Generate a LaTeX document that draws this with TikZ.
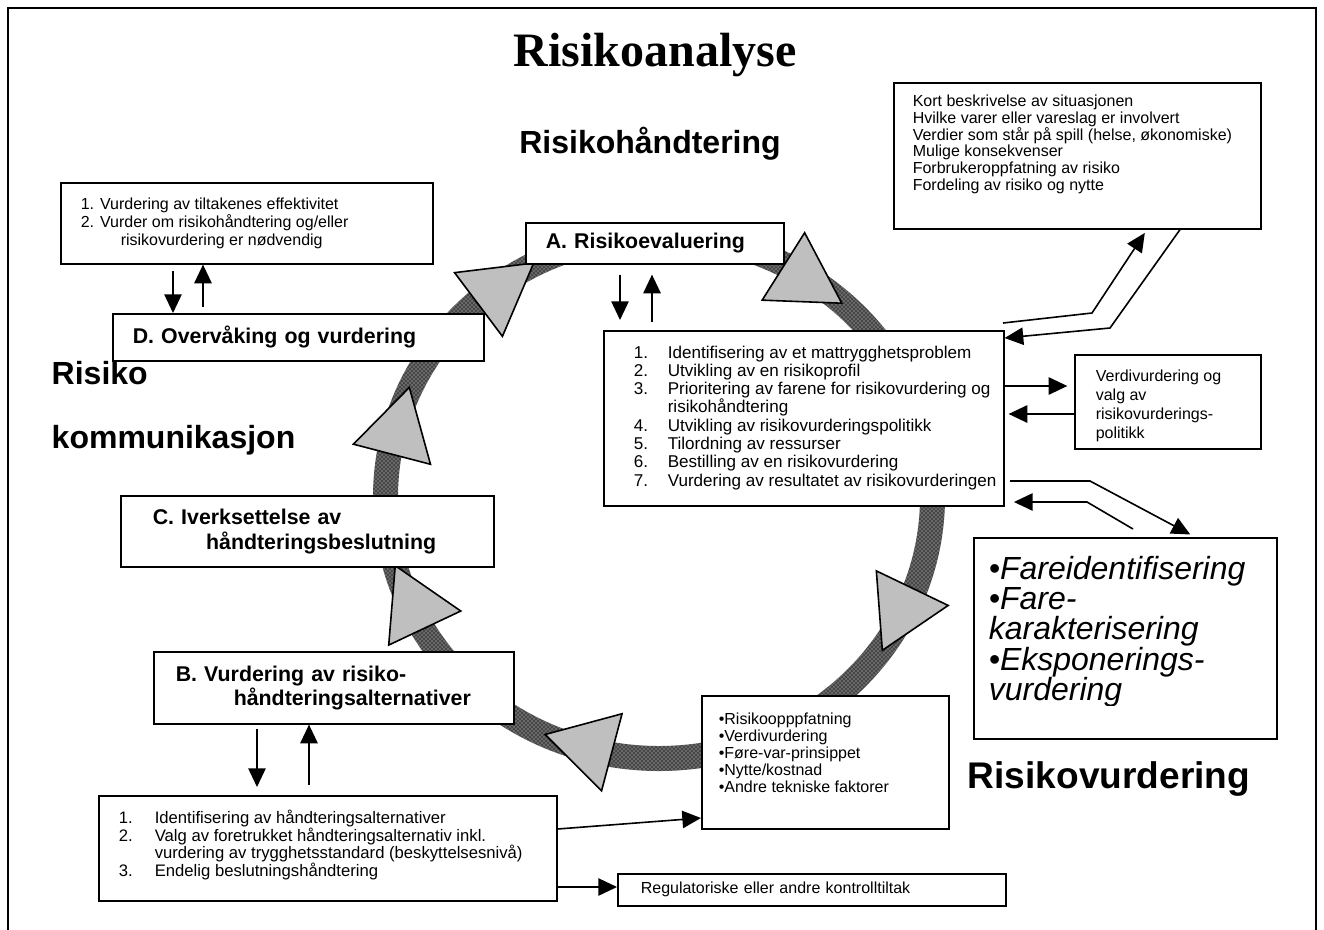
\documentclass[tikz,border=0pt]{standalone}
\usepackage{fontspec}
\setmainfont{Liberation Sans}
\newfontfamily\titlefont{Liberation Serif}
\usetikzlibrary{arrows.meta,patterns}

% text block inside a box: width, height, lines
\newcommand{\boxtext}[3]{\parbox[c][#2][t]{#1}{\raggedright #3}}

\begin{document}
\begin{tikzpicture}[x=0.75pt,y=-0.75pt,
  box/.style={draw,line width=1.2pt,fill=white,anchor=north west,inner sep=0pt},
  flow/.style={-{Triangle[length=14pt,width=13pt]},line width=1.2pt},
  ringarrow/.style={draw,line width=1.2pt,fill=black!25,line join=miter},
  heading/.style={font=\fontsize{24}{28}\selectfont\bfseries}]
  \useasboundingbox (0,0) rectangle (1324,929);

  % Frame
  \draw[line width=0.8pt] (8,935) -- (8,8) -- (1316,8) -- (1316,935);

  % Headings
  \node (title) at (655,55) {\titlefont\bfseries\fontsize{36}{40}\selectfont Risikoanalyse};
  \node[heading] (handtering) at (650,144) {Risikohåndtering};
  \node[heading,anchor=west,align=left,font=\fontsize{24}{48}\selectfont\bfseries] (kommunikasjon) at (47,408) {Risiko\\kommunikasjon};
  \node[heading,font=\fontsize{27.8}{32}\selectfont\bfseries] (vurdering) at (1109,779) {Risikovurdering};

  % Ring
  \coordinate (ring) at (659,497);
  \fill[black!72,even odd rule] (ring) ellipse (286 and 274) (ring) ellipse (261 and 249);
  \path[pattern=crosshatch dots,pattern color=black!15,even odd rule] (ring) ellipse (286 and 274) (ring) ellipse (261 and 249);

  % Arrow heads on the ring
  \foreach \a in {233.1,302.2,25.7,104.9,154.7,194.6}
    \draw[ringarrow,shift={(ring)},shift={(\a:270 and 258)}] (\a+90:46) -- (\a+210:46) -- (\a+330:46) -- cycle;

  % Boxes
  \node[box,inner xsep=14.25pt,inner ysep=9pt,font=\fontsize{12}{12.6}\selectfont] (info) at (893,82)
    {\boxtext{246.75pt}{91.5pt}{Kort beskrivelse av situasjonen\\Hvilke varer eller vareslag er involvert\\Verdier som står på spill (helse, økonomiske)\\Mulige konsekvenser\\Forbrukeroppfatning av risiko\\Fordeling av risiko og nytte}};
  \node[box,inner xsep=15pt,inner ysep=11pt,font=\fontsize{12}{13.5}\selectfont] (check) at (60,182)
    {\boxtext{249pt}{38.75pt}{1. Vurdering av tiltakenes effektivitet\\2. Vurder om risikohåndtering og/eller\\\hspace*{30pt}risikovurdering er nødvendig}};
  \node[box,inner xsep=15pt,minimum width=278.25pt,minimum height=35.25pt,text width=248.25pt,align=left,font=\fontsize{16}{19}\selectfont\bfseries] (monitor) at (112,313) {D. Overvåking og vurdering};
  \node[box,inner xsep=15pt,minimum width=193.5pt,minimum height=30.75pt,text width=163.5pt,align=left,font=\fontsize{16}{19}\selectfont\bfseries] (evaluate) at (525,222) {A. Risikoevaluering};
  \node[box,inner xsep=24pt,minimum width=279.75pt,minimum height=53.25pt,text width=231.75pt,align=left,font=\fontsize{16}{18.5}\selectfont\bfseries] (implement) at (120,495) {C. Iverksettelse av\\\hspace*{40pt}håndteringsbeslutning};
  \node[box,inner xsep=16.5pt,minimum width=270pt,minimum height=54pt,text width=237pt,align=left,font=\fontsize{16}{18}\selectfont\bfseries] (options) at (153,651) {B. Vurdering av risiko-\\\hspace*{43.5pt}håndteringsalternativer};
  \node[box,inner xsep=22.5pt,inner ysep=11.25pt,font=\fontsize{12.8}{13.7}\selectfont] (tasks) at (603,330)
    {\boxtext{255pt}{108.75pt}{\mbox{\makebox[25.5pt][l]{1.}Identifisering av et mattrygghetsproblem}\\
      \mbox{\makebox[25.5pt][l]{2.}Utvikling av en risikoprofil}\\
      \mbox{\makebox[25.5pt][l]{3.}Prioritering av farene for risikovurdering og}\\
      \hspace*{25.5pt}risikohåndtering\\
      \mbox{\makebox[25.5pt][l]{4.}Utvikling av risikovurderingspolitikk}\\
      \mbox{\makebox[25.5pt][l]{5.}Tilordning av ressurser}\\
      \mbox{\makebox[25.5pt][l]{6.}Bestilling av  en risikovurdering}\\
      \mbox{\makebox[25.5pt][l]{7.}Vurdering av resultatet av risikovurderingen}}};
  \node[box,inner xsep=15.75pt,inner ysep=11pt,font=\fontsize{12}{14.25}\selectfont] (policy) at (1074,354)
    {\boxtext{108pt}{48.5pt}{Verdivurdering og\\valg av\\risikovurderings-\\politikk}};
  \node[box,inner xsep=11.25pt,inner ysep=14pt,font=\fontsize{24}{22.6}\selectfont\itshape] (hazard) at (973,537)
    {\boxtext{204.75pt}{122.75pt}{•Fareidentifisering\\•Fare-\\karakterisering\\•Eksponerings-\\vurdering}};
  \fill[white] (975,706) rectangle (1274,736);
  \node[box,inner xsep=12.75pt,inner ysep=12.5pt,font=\fontsize{12}{12.9}\selectfont] (factors) at (701,695)
    {\boxtext{159.75pt}{74.75pt}{•Risikoopppfatning\\•Verdivurdering\\•Føre-var-prinsippet\\•Nytte/kostnad\\•Andre tekniske faktorer}};
  \node[box,inner xsep=15pt,inner ysep=11pt,font=\fontsize{12.5}{13.1}\selectfont] (decide) at (98,795)
    {\boxtext{313.5pt}{56.75pt}{\makebox[27pt][l]{1.}Identifisering av håndteringsalternativer\\
      \makebox[27pt][l]{2.}Valg av foretrukket håndteringsalternativ inkl.\\
      \hspace*{27pt}vurdering av trygghetsstandard (beskyttelsesnivå)\\
      \makebox[27pt][l]{3.}Endelig beslutningshåndtering}};
  \node[box,inner xsep=17.25pt,minimum width=291pt,minimum height=24pt,text width=256.5pt,align=left,font=\fontsize{12}{14}\selectfont] (measures) at (617,873) {Regulatoriske eller andre kontrolltiltak};

  % Connectors
  \draw[flow,shorten <=5pt] (173,0 |- check.south) -- (173,0 |- monitor.north);
  \draw[flow,shorten <=4.5pt] (203,0 |- monitor.north) -- (203,0 |- check.south);
  \draw[flow,shorten <=7.5pt,shorten >=7.5pt] (620,0 |- evaluate.south) -- (620,0 |- tasks.north);
  \draw[flow,shorten <=6pt,shorten >=7.5pt] (652,0 |- tasks.north) -- (652,0 |- evaluate.south);
  \draw[flow,shorten <=3pt,shorten >=6pt] (257,0 |- options.south) -- (257,0 |- decide.north);
  \draw[flow,shorten <=7.5pt] (309,0 |- decide.north) -- (309,0 |- options.south);
  \draw[flow,shorten >=5pt] (tasks.east |- 0,386) -- (policy.west |- 0,386);
  \draw[flow,shorten >=3pt] (policy.west |- 0,414) -- (tasks.east |- 0,414);

  % Double lines to the description box
  \coordinate (infoout) at (1003,323);
  \draw[flow,shorten >=3pt] (infoout) -- (1092,313) -- (1147,0 |- info.south);
  \draw[flow] (1180,0 |- info.south) -- (1110,328) -- (tasks.east |- 0,338);

  % Double lines to the hazard box
  \coordinate (hazardout) at (1010,481);
  \coordinate (hazardin) at (1133,529);
  \draw[flow,shorten >=4pt] (hazardout) -- (1090,481) -- (1195,0 |- hazard.north);
  \draw[flow,shorten >=7pt] (hazardin) -- (1087,502) -- (tasks.east |- 0,502);

  % Outputs of the decision box
  \draw[flow] (decide.east |- 0,829) -- (factors.west |- 0,818);
  \draw[flow] (decide.east |- 0,887) -- (measures.west |- 0,887);
\end{tikzpicture}
\end{document}
